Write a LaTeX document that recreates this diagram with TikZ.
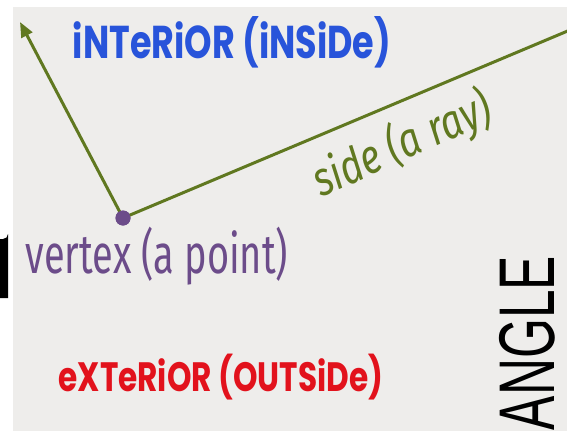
\documentclass[tikz,border=0pt]{standalone}
\usepackage{fontspec}
\usetikzlibrary{arrows.meta, positioning, calc}
\setmainfont{Poppins}
\newfontfamily\labelfont{Fira Sans}
\newfontfamily\titlefont{Liberation Sans}
\definecolor{PaperGray}{RGB}{238, 237, 235}
\definecolor{RayGreen}{RGB}{96, 120, 32}
\definecolor{VertexPurple}{RGB}{108, 76, 138}
\definecolor{InsideBlue}{RGB}{40, 84, 218}
\definecolor{OutsideRed}{RGB}{226, 18, 28}

\begin{document}
\begin{tikzpicture}[x=1pt, y=-1pt]

\useasboundingbox (0,0) rectangle (567,431);
\fill[white] (0,0) rectangle (567,431);
\fill[PaperGray] (13,7) rectangle (567,431);

% cut-off letter on the left
\fill[black] (0,298) -- (0,239) -- (3,239) arc[start angle=90, end angle=0, radius=5] -- (8,298) -- cycle;

% vertex and the two sides
\node[circle, fill=VertexPurple, inner sep=0pt, minimum size=15pt] (vertex) at (123,218) {};
\coordinate (tipA) at (20,22);
\coordinate (tipB) at (570,30);
\draw[RayGreen, line width=3pt, -{Triangle[length=15pt, width=12pt]}] (vertex.center) -- (tipA);
\draw[RayGreen, line width=3pt] (vertex.center) -- (tipB);
\node[circle, fill=VertexPurple, inner sep=0pt, minimum size=15pt] at (vertex) {};

% labels
\node[font=\fontsize{46}{48}\selectfont\bfseries, text=InsideBlue, xscale=0.76] (inside) at (232,42) {iNTeRiOR (iNSiDe)};
\node[font=\labelfont\fontsize{48}{50}\selectfont\itshape, text=RayGreen, rotate=24, xscale=0.8] (side) at (402,145) {side (a ray)};
\node[font=\labelfont\fontsize{55}{57}\selectfont, text=VertexPurple, xscale=0.69] (vertexlbl) at (157,256) {vertex (a point)};
\node[font=\fontsize{41}{43}\selectfont\bfseries, text=OutsideRed, xscale=0.76] (outside) at (221,377) {eXTeRiOR (OUTSiDe)};
\node[font=\titlefont\fontsize{79}{81}\selectfont, text=black, rotate=90, xscale=0.65, anchor=south] (angle) at (559,343) {ANGLE};

\end{tikzpicture}
\end{document}
